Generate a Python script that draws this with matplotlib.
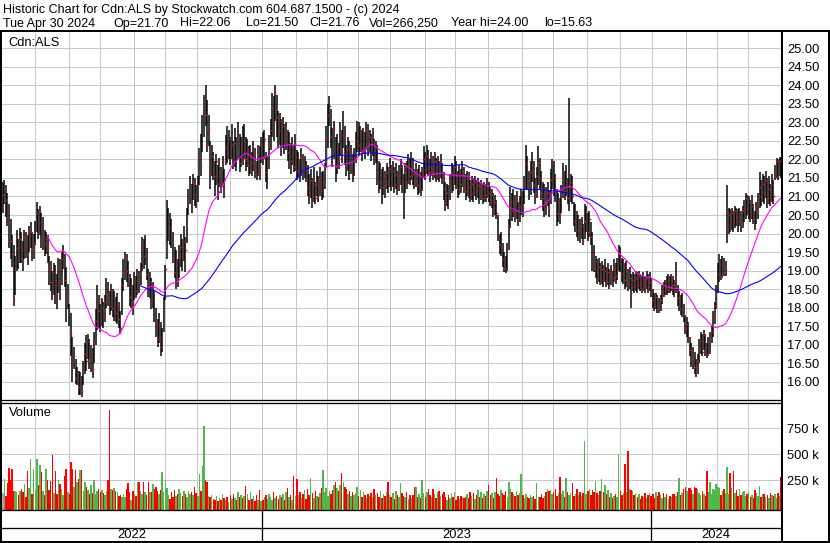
import numpy as np
import pandas as pd
import matplotlib
matplotlib.use('Agg')
from matplotlib import pyplot as plt
from matplotlib.ticker import FormatStrFormatter

# daily bars, Cdn:ALS, May 2022 - Apr 2024
hi = [21.40, 21.45, 21.30, 21.10, 20.80, 20.40, 19.95, 19.70, 19.40, 20.10, 19.85, 20.15,
      20.05, 19.80, 20.10, 20.05, 19.95, 20.20, 20.30, 20.05, 20.00, 20.35, 20.85, 20.65,
      20.75, 20.55, 20.45, 20.10, 20.05, 19.95, 19.40, 19.25, 19.00, 19.20, 19.15, 18.90,
      19.35, 19.30, 19.50, 19.70, 19.45, 19.10, 18.65, 18.10, 17.85, 17.20, 16.95, 16.60,
      16.40, 16.30, 16.25, 16.15, 16.55, 17.05, 17.25, 17.30, 17.15, 17.00, 16.90, 17.35,
      17.95, 18.60, 18.35, 18.10, 18.25, 18.15, 18.35, 18.80, 18.70, 18.45, 18.65, 18.50,
      18.45, 18.30, 18.40, 18.15, 17.90, 18.80, 19.30, 19.50, 19.45, 19.25, 18.90, 18.80,
      18.60, 18.95, 18.85, 19.05, 19.00, 19.20, 19.90, 19.85, 19.95, 19.60, 19.05, 18.95,
      18.80, 18.70, 18.45, 18.00, 17.70, 17.85, 17.60, 17.45, 18.30, 19.15, 20.90, 20.70,
      20.55, 20.40, 20.05, 19.65, 19.55, 19.30, 19.70, 20.00, 19.85, 20.20, 19.90, 20.70,
      21.20, 21.55, 21.35, 21.60, 21.50, 21.30, 21.55, 22.30, 22.70, 23.20, 23.75, 24.00,
      23.60, 23.20, 22.50, 22.40, 22.20, 21.95, 22.15, 21.85, 22.05, 21.80, 22.10, 21.75,
      22.65, 22.90, 22.80, 22.60, 22.95, 22.50, 22.85, 22.60, 23.00, 22.70, 22.60, 22.90,
      22.95, 22.60, 22.55, 22.35, 22.40, 22.20, 22.50, 22.30, 21.95, 22.40, 22.35, 22.60,
      22.75, 22.80, 22.20, 22.10, 22.65, 23.10, 23.80, 23.70, 24.00, 23.75, 23.30, 23.25,
      23.10, 23.15, 22.95, 23.00, 22.80, 22.75, 22.45, 22.60, 22.40, 22.70, 22.25, 22.20,
      22.00, 22.30, 22.15, 22.10, 21.95, 21.85, 21.60, 21.75, 21.50, 21.80, 21.40, 21.70,
      21.55, 21.80, 21.65, 21.70, 21.90, 22.90, 23.50, 23.70, 23.35, 22.85, 23.05, 22.60,
      22.70, 22.45, 23.00, 22.80, 23.30, 22.90, 22.40, 22.60, 22.50, 22.40, 22.15, 22.30,
      22.75, 23.05, 23.00, 22.90, 22.80, 22.85, 22.75, 23.00, 22.95, 22.80, 22.70, 22.85,
      22.55, 22.50, 22.40, 21.95, 21.90, 21.75, 21.80, 21.70, 21.90, 21.80, 22.05, 21.85,
      21.95, 21.80, 21.90, 21.70, 21.85, 22.00, 21.85, 21.60, 21.90, 21.95, 22.15, 22.00,
      22.20, 22.05, 21.75, 21.90, 21.75, 21.85, 21.65, 21.80, 22.35, 22.20, 22.40, 22.25,
      22.00, 22.20, 22.10, 22.20, 22.05, 22.10, 21.95, 22.15, 21.90, 21.65, 21.40, 21.35,
      21.30, 21.60, 21.90, 21.85, 22.10, 21.95, 21.70, 21.85, 21.75, 21.95, 21.80, 21.60,
      21.70, 21.65, 21.45, 21.55, 21.50, 21.55, 21.45, 21.50, 21.40, 21.45, 21.35, 21.40,
      21.35, 21.50, 21.40, 21.25, 21.20, 21.10, 21.05, 20.90, 20.50, 20.00, 20.05, 19.75,
      19.50, 19.40, 19.75, 20.40, 21.25, 21.10, 21.20, 21.05, 21.15, 20.85, 21.00, 21.20,
      21.15, 21.55, 22.40, 22.10, 21.70, 21.95, 22.20, 21.95, 21.50, 21.80, 22.35, 22.05,
      21.70, 21.40, 21.35, 21.25, 21.40, 21.15, 21.75, 22.00, 21.95, 21.60, 21.20, 21.10,
      20.95, 21.30, 21.90, 21.70, 21.85, 21.50, 23.66, 21.60, 21.55, 20.85, 20.80, 20.60,
      20.50, 20.40, 20.45, 20.25, 20.80, 20.75, 20.55, 20.60, 20.30, 20.05, 19.70, 19.40,
      19.30, 19.35, 19.20, 19.25, 19.15, 19.30, 19.10, 19.20, 19.05, 19.15, 19.00, 19.30,
      19.20, 19.35, 19.70, 19.65, 19.35, 19.30, 19.20, 19.25, 19.05, 19.10, 18.90, 18.95,
      18.90, 19.00, 18.95, 19.00, 18.90, 18.85, 18.95, 18.85, 19.00, 18.90, 18.95, 18.80,
      18.50, 18.40, 18.40, 18.35, 18.25, 18.35, 18.60, 18.70, 18.75, 18.85, 18.90, 18.85,
      18.90, 18.85, 18.75, 19.22, 18.60, 18.45, 18.35, 18.40, 18.10, 17.80, 17.75, 17.60,
      17.20, 17.05, 16.95, 16.80, 16.60, 16.75, 17.15, 17.35, 17.30, 17.40, 17.30, 17.05,
      17.20, 17.35, 17.50, 17.90, 18.15, 18.60, 19.20, 19.45, 19.30, 19.40, 19.35, 19.25,
      21.30, 20.70, 20.65, 20.70, 20.60, 20.75, 20.70, 20.65, 20.70, 20.60, 20.75, 20.90,
      21.10, 21.05, 21.00, 20.90, 21.05, 20.80, 20.60, 20.85, 21.10, 21.65, 21.45, 21.60,
      21.55, 21.70, 21.50, 21.55, 21.35, 21.60, 21.45, 21.85, 22.05, 22.00, 22.06, 22.06]

lo = [20.55, 20.80, 20.45, 20.20, 19.60, 19.30, 19.10, 18.05, 18.35, 19.00, 19.05, 19.20,
      19.20, 19.00, 19.30, 19.35, 19.15, 19.50, 19.60, 19.25, 19.30, 19.70, 20.05, 19.85,
      19.95, 19.60, 19.55, 19.40, 19.45, 19.20, 18.60, 18.45, 18.20, 18.35, 18.10, 17.95,
      18.40, 18.20, 18.60, 19.05, 18.55, 17.60, 17.95, 17.50, 16.70, 16.00, 16.35, 15.95,
      15.90, 15.65, 15.63, 15.60, 15.90, 16.20, 16.30, 16.60, 16.35, 16.25, 16.10, 16.50,
      17.00, 17.40, 17.45, 17.35, 17.50, 17.45, 17.60, 18.00, 18.05, 17.80, 17.90, 17.75,
      17.65, 17.60, 17.55, 17.45, 17.30, 17.80, 18.45, 18.75, 18.70, 18.55, 18.05, 18.00,
      17.80, 18.20, 18.25, 18.35, 18.40, 18.60, 19.00, 19.05, 19.15, 18.75, 18.30, 18.25,
      17.95, 18.00, 17.60, 17.20, 16.95, 17.05, 16.70, 16.80, 17.35, 18.20, 19.30, 19.80,
      19.70, 19.60, 19.20, 18.80, 18.50, 18.55, 18.80, 19.10, 19.00, 19.25, 18.95, 19.75,
      20.50, 20.80, 20.55, 20.90, 20.75, 20.70, 20.85, 21.30, 21.55, 22.20, 22.60, 22.90,
      22.20, 22.35, 21.20, 21.55, 21.45, 21.00, 21.30, 20.90, 21.25, 21.10, 21.30, 20.95,
      21.85, 21.90, 22.00, 21.85, 22.05, 21.75, 21.80, 21.70, 22.00, 21.65, 21.80, 21.85,
      22.00, 21.70, 21.80, 21.55, 21.60, 21.55, 21.70, 21.50, 21.45, 21.55, 21.45, 21.90,
      21.85, 22.00, 21.40, 21.20, 21.75, 22.25, 22.60, 22.50, 23.05, 22.60, 22.30, 22.40,
      22.10, 22.30, 22.15, 22.25, 21.95, 21.75, 21.60, 21.85, 21.65, 21.70, 21.45, 21.50,
      21.40, 21.55, 21.45, 21.50, 21.40, 21.00, 20.80, 20.95, 20.70, 20.85, 20.80, 21.00,
      20.85, 21.00, 20.90, 20.95, 21.20, 21.80, 22.30, 22.90, 22.30, 21.80, 22.00, 21.40,
      21.60, 21.75, 22.10, 21.90, 22.30, 21.85, 21.55, 21.70, 21.45, 21.60, 21.40, 21.55,
      21.90, 22.20, 22.10, 22.20, 21.95, 22.15, 22.00, 22.25, 22.10, 22.20, 21.95, 22.10,
      21.85, 21.90, 21.30, 21.10, 21.20, 20.80, 21.05, 20.95, 21.20, 21.10, 21.25, 21.15,
      21.25, 21.10, 21.20, 21.05, 21.15, 21.30, 21.10, 20.40, 21.10, 21.20, 21.35, 21.30,
      21.45, 21.30, 21.20, 21.25, 21.05, 21.10, 21.00, 21.15, 21.50, 21.45, 21.60, 21.55,
      21.40, 21.55, 21.45, 21.50, 21.40, 21.45, 21.40, 21.50, 21.35, 20.90, 20.60, 20.75,
      20.65, 20.90, 21.10, 21.15, 21.30, 21.20, 20.95, 21.05, 21.10, 21.25, 21.10, 20.90,
      21.00, 20.95, 20.85, 20.90, 20.85, 21.00, 20.90, 20.95, 20.80, 20.90, 20.80, 20.85,
      20.85, 20.95, 20.85, 20.75, 20.70, 20.45, 20.50, 20.40, 19.80, 19.45, 19.40, 19.10,
      18.95, 18.94, 19.00, 19.55, 20.15, 20.35, 20.45, 20.30, 20.40, 20.20, 20.30, 20.50,
      20.45, 20.80, 21.20, 21.20, 20.90, 21.05, 21.40, 21.10, 20.80, 20.95, 21.30, 21.20,
      20.90, 20.60, 20.45, 20.50, 20.75, 20.45, 20.80, 21.20, 21.00, 20.85, 20.20, 20.30,
      20.25, 20.55, 20.95, 20.90, 21.00, 20.80, 20.60, 20.85, 20.80, 20.20, 20.05, 19.90,
      19.80, 19.75, 19.85, 19.70, 19.85, 20.05, 19.80, 19.90, 19.70, 19.00, 18.95, 18.80,
      18.65, 18.70, 18.60, 18.65, 18.55, 18.70, 18.55, 18.60, 18.50, 18.60, 18.55, 18.70,
      18.65, 18.75, 19.00, 18.95, 18.70, 18.65, 18.50, 18.55, 18.45, 18.50, 18.00, 18.45,
      18.40, 18.45, 18.40, 18.50, 18.45, 18.40, 18.45, 18.40, 18.50, 18.40, 18.45, 18.30,
      18.00, 17.90, 17.95, 17.85, 17.85, 17.90, 18.10, 18.30, 18.35, 18.35, 18.40, 18.40,
      18.45, 18.35, 18.30, 18.40, 18.05, 17.90, 17.80, 17.75, 17.60, 17.30, 17.20, 17.05,
      16.70, 16.40, 16.35, 16.20, 16.13, 16.20, 16.50, 16.75, 16.70, 16.85, 16.70, 16.65,
      16.70, 16.75, 17.05, 17.20, 17.55, 17.95, 18.40, 18.70, 18.75, 18.80, 18.85, 18.85,
      19.75, 20.00, 20.05, 20.10, 20.05, 20.15, 20.20, 20.05, 20.20, 20.05, 20.15, 20.30,
      20.40, 20.50, 20.40, 20.30, 20.40, 20.25, 20.10, 20.25, 20.40, 20.70, 20.75, 20.85,
      20.80, 20.95, 20.70, 20.80, 20.75, 20.85, 20.80, 21.45, 21.50, 21.45, 21.55, 21.50]

cl = [21.05, 21.20, 20.90, 20.65, 20.30, 19.80, 19.45, 18.20, 19.05, 19.60, 19.30, 19.85,
      19.55, 19.25, 19.90, 19.70, 19.40, 19.95, 20.05, 19.55, 19.75, 20.10, 20.55, 20.30,
      20.60, 19.95, 20.20, 19.75, 19.85, 19.60, 19.05, 18.70, 18.40, 18.95, 18.60, 18.35,
      19.05, 18.70, 19.30, 19.50, 18.75, 18.25, 18.40, 17.85, 17.30, 16.50, 16.70, 16.10,
      16.25, 15.85, 16.05, 15.75, 16.30, 16.75, 16.55, 17.10, 16.60, 16.80, 16.35, 17.05,
      17.65, 18.25, 17.90, 17.55, 18.00, 17.75, 18.15, 18.55, 18.30, 18.05, 18.45, 18.00,
      18.25, 17.85, 18.10, 17.70, 17.45, 18.60, 18.95, 19.35, 19.00, 18.85, 18.30, 18.55,
      18.10, 18.75, 18.45, 18.90, 18.70, 19.05, 19.65, 19.40, 19.70, 18.90, 18.45, 18.70,
      18.20, 18.55, 17.90, 17.55, 17.15, 17.50, 16.95, 17.20, 17.95, 19.05, 19.55, 20.35,
      20.15, 20.00, 19.35, 18.95, 19.15, 18.70, 19.40, 19.65, 19.35, 19.80, 19.55, 20.45,
      20.90, 21.25, 20.80, 21.40, 21.05, 20.95, 21.30, 22.05, 21.80, 22.75, 23.50, 23.20,
      22.40, 22.85, 21.60, 22.10, 21.75, 21.55, 21.95, 21.35, 21.70, 21.40, 21.95, 21.25,
      22.30, 22.15, 22.55, 22.05, 22.40, 21.95, 22.45, 22.20, 22.60, 21.90, 22.35, 22.05,
      22.50, 22.00, 22.25, 21.85, 22.10, 21.90, 22.20, 21.75, 21.60, 22.15, 21.80, 22.40,
      22.05, 22.55, 21.65, 21.85, 22.35, 22.80, 23.40, 23.00, 23.80, 23.15, 22.75, 23.05,
      22.50, 22.90, 22.45, 22.70, 22.20, 22.55, 21.95, 22.35, 21.80, 22.10, 21.70, 21.95,
      21.60, 22.05, 21.70, 21.85, 21.45, 21.25, 21.10, 21.45, 21.00, 21.30, 20.95, 21.35,
      21.05, 21.50, 21.15, 21.40, 21.75, 22.55, 23.20, 23.45, 22.60, 22.10, 22.85, 21.80,
      22.30, 22.00, 22.75, 22.20, 22.65, 22.15, 21.90, 22.30, 21.75, 22.20, 21.60, 22.05,
      22.50, 22.95, 22.40, 22.75, 22.25, 22.60, 22.30, 22.80, 22.45, 22.60, 22.20, 22.50,
      22.05, 22.35, 21.85, 21.40, 21.70, 21.25, 21.55, 21.30, 21.65, 21.40, 21.75, 21.50,
      21.70, 21.35, 21.60, 21.25, 21.55, 21.80, 21.30, 21.00, 21.65, 21.40, 21.85, 21.55,
      21.90, 21.60, 21.35, 21.70, 21.30, 21.55, 21.20, 21.60, 22.00, 21.75, 22.10, 21.80,
      21.65, 22.05, 21.70, 21.95, 21.60, 21.85, 21.55, 21.90, 21.50, 21.20, 20.85, 21.10,
      20.95, 21.30, 21.65, 21.40, 21.80, 21.55, 21.20, 21.60, 21.35, 21.70, 21.45, 21.15,
      21.50, 21.25, 21.05, 21.35, 21.10, 21.40, 21.15, 21.30, 21.00, 21.25, 20.95, 21.20,
      21.05, 21.30, 21.10, 20.90, 21.05, 20.70, 20.85, 20.55, 19.95, 19.70, 19.85, 19.30,
      19.15, 19.05, 19.60, 20.20, 20.85, 20.60, 21.00, 20.50, 20.90, 20.35, 20.75, 21.05,
      20.70, 21.35, 21.90, 21.45, 21.20, 21.65, 21.85, 21.30, 21.00, 21.55, 21.90, 21.50,
      21.25, 20.95, 21.15, 20.80, 21.10, 20.70, 21.45, 21.95, 21.50, 21.15, 20.55, 20.85,
      20.50, 21.05, 21.50, 21.15, 21.60, 20.95, 21.25, 21.40, 21.00, 20.35, 20.55, 20.10,
      20.30, 19.95, 20.20, 19.80, 20.35, 20.60, 20.05, 20.40, 19.90, 19.45, 19.10, 19.25,
      18.95, 19.10, 18.80, 19.05, 18.75, 19.00, 18.70, 18.95, 18.65, 18.90, 18.80, 19.05,
      18.85, 19.10, 19.45, 19.30, 18.90, 19.15, 18.75, 19.00, 18.65, 18.80, 18.40, 18.75,
      18.55, 18.80, 18.60, 18.85, 18.65, 18.50, 18.75, 18.60, 18.80, 18.55, 18.70, 18.45,
      18.20, 18.05, 18.30, 18.00, 17.95, 18.20, 18.45, 18.35, 18.60, 18.50, 18.75, 18.55,
      18.80, 18.60, 18.45, 18.90, 18.25, 18.30, 18.00, 18.15, 17.80, 17.45, 17.55, 17.15,
      16.85, 16.60, 16.75, 16.40, 16.25, 16.55, 16.90, 17.10, 16.80, 17.25, 16.95, 16.75,
      16.80, 17.10, 17.35, 17.75, 18.05, 18.45, 18.90, 19.15, 18.85, 19.20, 18.95, 19.05,
      20.10, 20.50, 20.20, 20.55, 20.30, 20.60, 20.45, 20.35, 20.55, 20.25, 20.60, 20.70,
      20.95, 20.65, 20.85, 20.50, 20.75, 20.40, 20.15, 20.60, 20.85, 21.25, 21.00, 21.35,
      21.10, 21.45, 20.95, 21.20, 20.90, 21.30, 21.00, 21.65, 21.95, 21.55, 21.95, 21.76]

# volume in thousands of shares
vol = [130, 260, 95, 224, 365, 250, 355, 150, 145, 140, 110, 150,
       166, 140, 214, 90, 342, 180, 454, 120, 358, 160, 454, 200,
       397, 330, 150, 110, 358, 250, 160, 240, 493, 130, 339, 120,
       250, 215, 170, 110, 294, 358, 140, 120, 422, 358, 190, 352,
       230, 262, 352, 352, 150, 230, 190, 160, 120, 200, 130, 256,
       120, 150, 170, 140, 160, 130, 110, 150, 256, 928, 170, 160,
       175, 150, 140, 100, 110, 85, 120, 90, 170, 224, 134, 60,
       150, 120, 95, 237, 237, 150, 120, 237, 134, 110, 237, 140,
       134, 214, 170, 190, 150, 120, 160, 333, 140, 256, 180, 110,
       70, 140, 90, 160, 100, 120, 165, 130, 100, 145, 120, 90,
       150, 120, 140, 110, 182, 125, 95, 307, 150, 384, 774, 250,
       237, 100, 85, 110, 70, 60, 95, 55, 80, 60, 120, 75,
       60, 90, 45, 105, 70, 115, 80, 60, 135, 90, 110, 75,
       95, 192, 120, 60, 140, 70, 95, 55, 110, 65, 160, 50,
       60, 85, 110, 70, 120, 90, 60, 135, 80, 95, 70, 110,
       85, 120, 60, 135, 173, 90, 110, 60, 288, 95, 262, 110,
       141, 80, 120, 155, 70, 165, 110, 275, 130, 80, 150, 100,
       90, 130, 175, 346, 140, 180, 100, 150, 120, 160, 205, 230,
       180, 145, 200, 320, 230, 190, 170, 120, 150, 95, 140, 110,
       130, 182, 100, 160, 90, 140, 110, 75, 120, 95, 130, 85,
       166, 110, 130, 90, 150, 80, 120, 100, 140, 237, 110, 90,
       130, 70, 150, 110, 85, 224, 130, 100, 90, 140, 70, 110,
       80, 106, 186, 182, 90, 120, 75, 250, 130, 85, 140, 170,
       110, 90, 170, 120, 75, 140, 147, 95, 120, 138, 90, 60,
       110, 75, 130, 90, 140, 60, 95, 70, 100, 85, 75, 90,
       120, 80, 140, 95, 130, 70, 110, 154, 90, 140, 75, 120,
       95, 150, 202, 110, 130, 80, 140, 272, 120, 95, 154, 130,
       110, 150, 90, 234, 170, 138, 120, 95, 150, 110, 130, 310,
       110, 80, 120, 90, 75, 110, 85, 100, 70, 227, 90, 85,
       120, 80, 95, 138, 170, 150, 160, 120, 140, 170, 95, 130,
       278, 120, 150, 90, 272, 140, 110, 130, 227, 100, 120, 170,
       110, 140, 95, 130, 624, 120, 150, 170, 110, 160, 140, 243,
       130, 110, 150, 259, 140, 208, 120, 160, 90, 130, 75, 100,
       120, 90, 505, 150, 110, 130, 410, 140, 528, 170, 160, 150,
       110, 130, 90, 120, 70, 100, 85, 130, 75, 110, 131, 95,
       120, 80, 140, 95, 138, 110, 75, 130, 90, 115, 70, 100,
       85, 120, 122, 95, 140, 272, 110, 130, 170, 186, 150, 175,
       180, 160, 120, 186, 175, 170, 130, 110, 150, 120, 100, 339,
       140, 234, 120, 170, 160, 218, 190, 175, 110, 150, 163, 130,
       378, 120, 320, 180, 339, 130, 154, 100, 170, 110, 140, 150,
       100, 120, 140, 90, 110, 80, 160, 130, 100, 192, 85, 120,
       122, 90, 110, 75, 130, 112, 95, 120, 80, 128, 100, 282]

# bar index of the first trading day of each month (Jun 2022 .. Apr 2024)
month_idx = [21, 43, 63, 85, 105, 126, 147, 168, 190, 210, 230, 251,
             273, 293, 314, 336, 356, 378, 399, 420, 442, 462, 482]
year_idx = [0, 168, 420]
year_lbl = ['2022', '2023', '2024']
price_ticks = np.arange(16.0, 25.01, 0.5)
vol_ticks = [250, 500, 750]

title1 = 'Historic Chart for Cdn:ALS by Stockwatch.com 604.687.1500 - (c) 2024'
quote_fields = ['Tue Apr 30 2024', 'Op=21.70', 'Hi=22.06', 'Lo=21.50', 'Cl=21.76',
                'Vol=266,250', 'Year hi=24.00', 'lo=15.63']
quote_x = [3, 113, 180, 246, 309, 369, 451, 544]   # pixel column of each field

plt.rcParams['font.family'] = ['Liberation Sans', 'DejaVu Sans']
W, H = 830, 543
FS = 9.3
FS_T = 9.0
GRID = '#c8c8c8'
PX = 0.72  # points per pixel at 100 dpi


def box(x0, y0, x1, y1):
    return [x0 / W, 1 - y1 / H, (x1 - x0) / W, (y1 - y0) / H]


n = len(cl)
x = np.arange(n)
close = pd.Series(cl)
ma_fast = close.rolling(30).mean()
ma_slow = close.rolling(90).mean()
chg = np.sign(np.diff(np.array(cl), prepend=np.nan))
vcol = np.where(chg > 0, '#4fb84a', np.where(chg < 0, '#ff0000', '#a8a8a8'))

fig = plt.figure(figsize=(W / 100, H / 100), dpi=100)
fig.patch.set_facecolor('white')

# price panel
ax = fig.add_axes(box(2, 31, 782, 400))
ax.set_xlim(-0.5, n - 0.5)
ax.set_ylim(15.506, 25.468)
ax.set_xticks(np.array(month_idx) - 0.5)
ax.set_yticks(price_ticks)
ax.yaxis.set_major_formatter(FormatStrFormatter('%.2f'))
ax.grid(True, color=GRID, lw=1 * PX)
ax.set_axisbelow(True)
ax.tick_params(length=0, labelbottom=False, labelleft=False, labelright=True,
               pad=3.5, labelsize=FS)
for s in ax.spines.values():
    s.set_visible(False)
ax.vlines(x, lo, hi, color='black', lw=1.5 * PX, zorder=3)
ax.plot(x + 0.15, cl, ls='none', marker='s', ms=1.1, mew=0, color='red', zorder=4)
ax.plot(x, ma_fast, color='#ff00ff', lw=1.1 * PX, zorder=5)
ax.plot(x, ma_slow, color='#0000ff', lw=1.1 * PX, zorder=5)
ax.text(0.0085, 0.968, 'Cdn:ALS', transform=ax.transAxes, fontsize=FS,
        va='center', ha='left')

# volume panel
axv = fig.add_axes(box(2, 402, 782, 509.5))
axv.set_xlim(-0.5, n - 0.5)
vbase = -31
axv.set_ylim(vbase, 1003)
axv.set_xticks(np.array(month_idx) - 0.5)
axv.set_yticks(vol_ticks)
axv.set_yticklabels([f'{v} k' for v in vol_ticks])
axv.grid(True, color=GRID, lw=1 * PX)
axv.set_axisbelow(True)
axv.tick_params(length=0, labelbottom=False, labelleft=False, labelright=True,
                pad=3.5, labelsize=FS)
for s in axv.spines.values():
    s.set_visible(False)
axv.bar(x, np.array(vol) - vbase, bottom=vbase, width=0.95, color=vcol,
        lw=0, zorder=3)
axv.text(0.0085, 0.9, 'Volume', transform=axv.transAxes, fontsize=FS,
         va='center', ha='left')

# frame, header and year strip drawn in pixel space
ov = fig.add_axes([0, 0, 1, 1], zorder=10)
ov.set_xlim(0, W)
ov.set_ylim(H, 0)
ov.axis('off')
ov.patch.set_alpha(0)

ov.text(3, 9.5, title1, fontsize=FS_T, va='center', ha='left')
for fx, ft in zip(quote_x, quote_fields):
    ov.text(fx, 23.5, ft, fontsize=FS_T, va='center', ha='left')

k = dict(color='black', solid_capstyle='butt')
ov.plot([0, W], [31, 31], lw=2 * PX, **k)
ov.plot([1, 1], [30, H], lw=2 * PX, **k)
ov.plot([W - 1, W - 1], [30, H], lw=2 * PX, **k)
ov.plot([0, W], [H - 1, H - 1], lw=2 * PX, **k)
ov.plot([782, 782], [30, H], lw=2 * PX, **k)
for yy in (400, 402.5, 510, 527.5):
    ov.plot([0, 782], [yy, yy], lw=1.3 * PX, **k)

px_per_bar = 779 / n
edges = year_idx + [n]
for j, lab in enumerate(year_lbl):
    a = 2 + px_per_bar * edges[j]
    b = 2 + px_per_bar * edges[j + 1]
    if j > 0:
        ov.plot([a, a], [510, H], lw=1.3 * PX, **k)
    ov.text((a + b) / 2, 535, lab, fontsize=FS, ha='center', va='center')

fig.savefig('out.png', dpi=100, facecolor='white')
